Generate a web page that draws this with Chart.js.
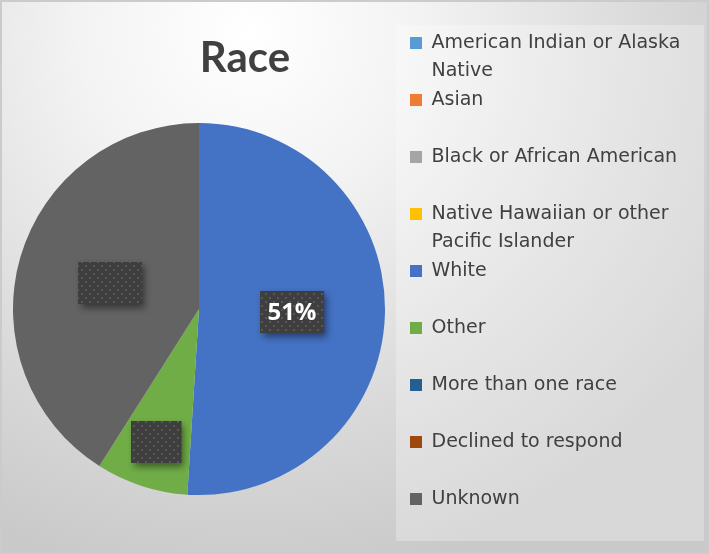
<!DOCTYPE html>
<html lang="en">
<head>
<meta charset="utf-8">
<title>Race</title>
<script src="https://cdn.jsdelivr.net/npm/chart.js@4.4.6/dist/chart.umd.min.js"></script>
<style>
    body { margin: 0; background: #ffffff; }
    #marco {
        position: relative;
        width: 709px;
        height: 554px;
        overflow: hidden;
        background: radial-gradient(ellipse 80% 100% at 35% 6%, #ffffff 0%, #f3f3f3 30%, #dadada 70%, #c9c9c9 100%);
        box-shadow: inset 0 0 0 2px #cbcbcb;
    }
    #panelLeyenda {
        position: absolute;
        left: 396px;
        top: 25px;
        width: 308px;
        height: 516px;
        background: rgba(255, 255, 255, 0.28);
    }
    /* el lienzo empieza 12px a la izquierda para que la tarta quede centrada donde la original */
    #graficaRaza { position: absolute; left: -12px; top: 0; }
</style>
</head>
<body>
<div id="marco">
    <div id="panelLeyenda"></div>
    <canvas id="graficaRaza" width="721" height="554"></canvas>
</div>
<script>
const categorias = [
    ["American Indian or Alaska", "Native"],
    "Asian",
    "Black or African American",
    ["Native Hawaiian or other", "Pacific Islander"],
    "White",
    "Other",
    "More than one race",
    "Declined to respond",
    "Unknown"
];

// porcentaje de cada categoria (solo White, Other y Unknown tienen valor)
const porcentajes = [0, 0, 0, 0, 51, 8, 0, 0, 41];

const colores = ["#5B9BD5", "#ED7D31", "#A5A5A5", "#FFC000", "#4472C4", "#70AD47", "#255E91", "#9E480E", "#636363"];

// solo la etiqueta de White deja ver su texto
const etiquetaVisible = [false, false, false, false, true, false, false, false, false];

document.addEventListener('DOMContentLoaded', function () {

    function crearPatron() {
        const c = document.createElement('canvas');
        c.width = 8;
        c.height = 8;
        const p = c.getContext('2d');
        p.fillStyle = '#3e3e3e';
        p.fillRect(0, 0, 8, 8);
        p.fillStyle = '#595959';
        p.fillRect(1, 1, 2, 2);
        p.fillRect(5, 5, 2, 2);
        return p.createPattern(c, 'repeat');
    }

    // la leyenda se deja estrecha para el reparto del espacio; luego se ensancha para que no recorte el texto
    const leyendaAnchaPlugin = {
        id: 'leyendaAncha',
        afterLayout(chart) {
            chart.legend.right = chart.width;
            chart.legend.width = chart.legend.right - chart.legend.left;
        }
    };

    const etiquetasPlugin = {
        id: 'etiquetas',
        afterDatasetsDraw(chart, args, opts) {
            const ctx = chart.ctx;
            const meta = chart.getDatasetMeta(0);
            const datos = chart.data.datasets[0].data;
            const total = datos.reduce((a, b) => a + b, 0);
            const patron = crearPatron();
            ctx.save();
            ctx.font = 'bold 24px "Open Sans"';
            meta.data.forEach(function (arco, i) {
                if (!datos[i]) return;
                const p = arco.getProps(['x', 'y', 'startAngle', 'endAngle', 'outerRadius'], true);
                const medio = (p.startAngle + p.endAngle) / 2;
                const r = p.outerRadius * (opts.distancia[i] || 0.5);
                const cx = p.x + Math.cos(medio) * r;
                const cy = p.y + Math.sin(medio) * r;
                const texto = Math.round(datos[i] / total * 100) + '%';
                const ancho = ctx.measureText(texto).width + 15;
                const alto = 42;
                const x0 = Math.round(cx - ancho / 2);
                const y0 = Math.round(cy - alto / 2);

                ctx.save();
                ctx.shadowColor = 'rgba(0, 0, 0, 0.45)';
                ctx.shadowBlur = 7;
                ctx.shadowOffsetX = 3;
                ctx.shadowOffsetY = 4;
                ctx.fillStyle = '#3e3e3e';
                ctx.fillRect(x0, y0, ancho, alto);
                ctx.restore();

                ctx.fillStyle = patron;
                ctx.fillRect(x0, y0, ancho, alto);

                if (etiquetaVisible[i]) {
                    ctx.fillStyle = '#ffffff';
                    ctx.textAlign = 'center';
                    ctx.textBaseline = 'middle';
                    ctx.fillText(texto, cx, y0 + alto / 2 + 1);
                }
            });
            ctx.restore();
        }
    };

    function renderGraficaRaza() {
        const ctx = document.getElementById('graficaRaza').getContext('2d');
        new Chart(ctx, {
            type: 'pie',
            data: {
                labels: categorias,
                datasets: [{
                    data: porcentajes,
                    backgroundColor: colores,
                    borderWidth: 0,
                    radius: 186
                }]
            },
            plugins: [leyendaAnchaPlugin, etiquetasPlugin],
            options: {
                responsive: false,
                animation: false,
                events: [],
                layout: {
                    padding: { left: 0, right: 207, top: 33.5, bottom: 19.9 }
                },
                plugins: {
                    tooltip: { enabled: false },
                    title: {
                        display: true,
                        text: 'Race',
                        color: '#404040',
                        fullSize: true,
                        padding: 0,
                        font: { family: 'Lato', weight: 'bold', size: 42, lineHeight: 1.2 }
                    },
                    legend: {
                        position: 'right',
                        align: 'start',
                        maxWidth: 92,
                        labels: {
                            boxWidth: 12,
                            boxHeight: 12,
                            padding: 0,
                            color: '#404040',
                            font: { family: 'DejaVu Sans', size: 19, lineHeight: 1.5 },
                            generateLabels(chart) {
                                const items = Chart.overrides.doughnut.plugins.legend.labels.generateLabels(chart);
                                return items.map(function (item, i) {
                                    if (!Array.isArray(item.text) && i < items.length - 1) {
                                        item.text = [item.text, ''];
                                    }
                                    return item;
                                });
                            }
                        }
                    },
                    etiquetas: {
                        distancia: [0.5, 0.5, 0.5, 0.5, 0.5, 0.75, 0.5, 0.5, 0.5]
                    }
                }
            }
        });
    }

    renderGraficaRaza();
});
</script>
</body>
</html>
